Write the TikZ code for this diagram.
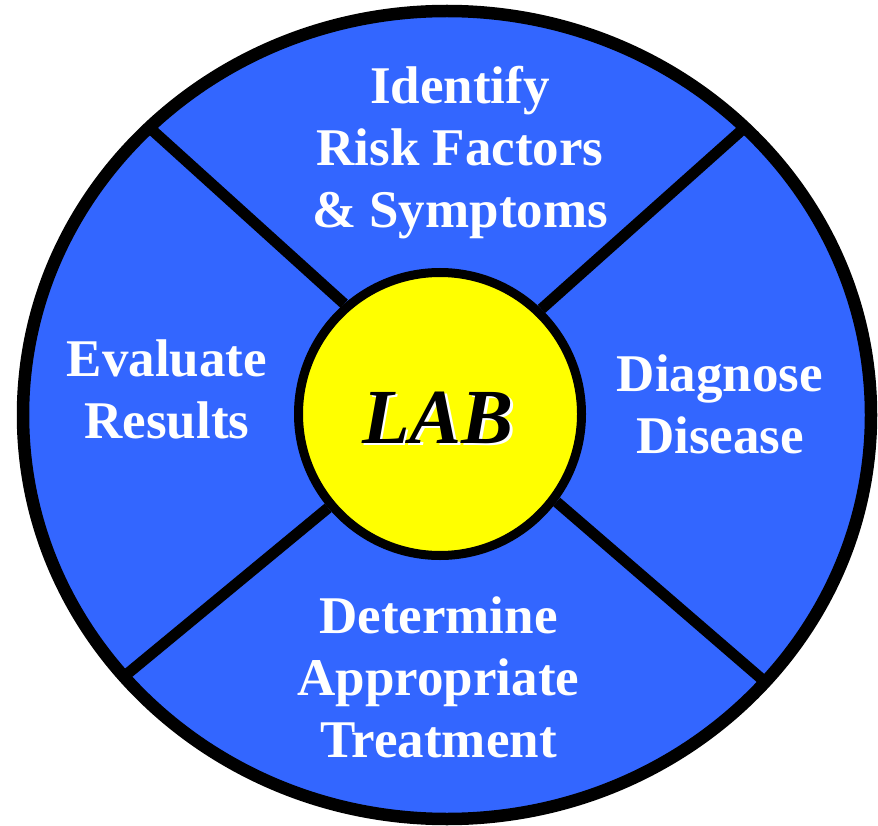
\documentclass[tikz,border=0pt]{standalone}
\usepackage{fontspec}
\setmainfont{Liberation Serif}
\usepackage{tikz}
\usetikzlibrary{shapes.geometric}
\definecolor{wheelblue}{RGB}{51,102,255}
\definecolor{labyellow}{RGB}{255,255,0}

\begin{document}
\begin{tikzpicture}[
    x=1pt, y=-1pt,
    rim/.style={ellipse, draw, line width=12.5pt, fill=wheelblue, minimum width=848pt, minimum height=808pt, inner sep=0pt, outer sep=0pt},
    hub/.style={circle, draw, line width=9pt, fill=labyellow, minimum size=283pt, inner sep=0pt},
    spoke/.style={line width=11pt},
    task/.style={text=white, align=center, anchor=base, font=\fontsize{53}{62}\selectfont\bfseries},
    labtext/.style={anchor=base, font=\fontsize{78}{78}\selectfont\bfseries\itshape}
  ]
  \useasboundingbox (0,0) rectangle (878,826);

  \node[rim] (wheel) at (447,415) {};
  \node[hub] (hub) at (440,414) {};

  % dividers
  \draw[spoke] (wheel.136) -- (hub.131);
  \draw[spoke] (wheel.44) -- (hub.46);
  \draw[spoke] (wheel.219.8) -- (hub.220);
  \draw[spoke] (wheel.320.2) -- (hub.323);

  \node[labtext, text=white] (labshadow) at (440.5,445.5) {LAB};
  \node[labtext, text=black] (lab) at (438,443) {LAB};

  % base anchor sits on the last line
  \node[task] (risk) at (460,228) {Identify\\Risk Factors\\\& Symptoms};
  \node[task] (diag) at (720,453) {Diagnose\\Disease};
  \node[task] (treat) at (438.5,757) {Determine\\Appropriate\\Treatment};
  \node[task] (eval) at (167,438) {Evaluate\\Results};

\end{tikzpicture}
\end{document}
